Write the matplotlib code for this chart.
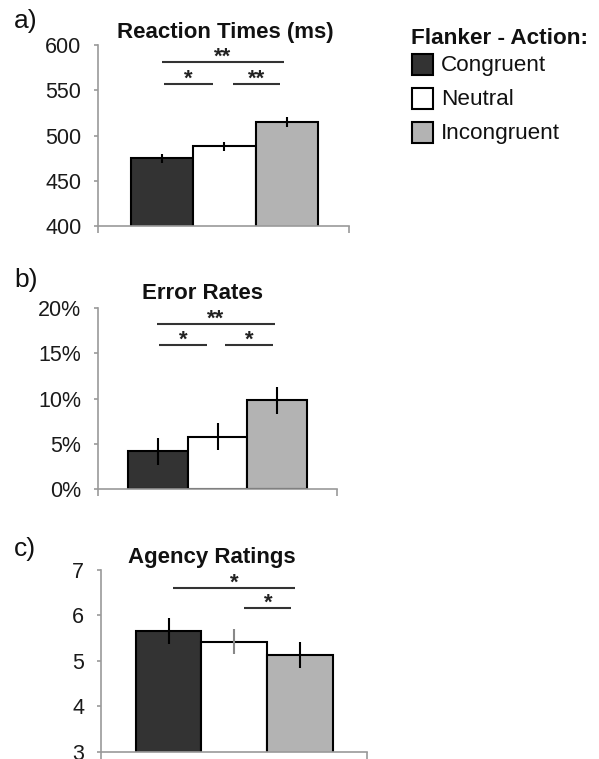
import matplotlib
matplotlib.use('Agg')
import matplotlib.pyplot as plt
from matplotlib.patches import Rectangle

plt.rcParams['font.family'] = ['Liberation Sans', 'DejaVu Sans']

# ---------------- data ----------------
conditions = ['Congruent', 'Neutral', 'Incongruent']
bar_colors = ['#333333', '#ffffff', '#b3b3b3']
err_colors_c = ['black', '#888888', 'black']

rt_means = [475, 488, 515]
rt_errs = [5, 5, 5.5]
rt_ticks = [400, 450, 500, 550, 600]
rt_ticklabels = ['400', '450', '500', '550', '600']

er_means = [4.2, 5.8, 9.8]
er_errs = [1.5, 1.5, 1.5]
er_ticks = [0, 5, 10, 15, 20]
er_ticklabels = ['0%', '5%', '10%', '15%', '20%']

ag_means = [5.65, 5.42, 5.13]
ag_errs = [0.29, 0.28, 0.29]
ag_ticks = [3, 4, 5, 6, 7]
ag_ticklabels = ['3', '4', '5', '6', '7']

# significance brackets: (x start, x end, y level, label)
rt_sig = [(0.0, 1.95, 581, '**'), (0.03, 0.82, 557, '*'), (1.14, 1.90, 557, '**')]
er_sig = [(-0.01, 1.96, 18.3, '**'), (0.02, 0.83, 15.9, '*'), (1.13, 1.93, 15.9, '*')]
ag_sig = [(0.06, 1.93, 6.6, '*'), (1.15, 1.87, 6.17, '*')]

titles = ['Reaction Times (ms)', 'Error Rates', 'Agency Ratings']
panel_labels = ['a)', 'b)', 'c)']
legend_title = 'Flanker - Action:'

# ---------------- layout ----------------
W, H = 599, 759
fig = plt.figure(figsize=(W / 100, H / 100), dpi=100)

def fx(px):
    return px / W

def fy(py):
    return 1 - py / H

panels = [
    dict(rect=[fx(98), fy(226), 251 / W, 181 / H], xlim=(-1.03, 3.0),
         means=rt_means, errs=rt_errs, ticks=rt_ticks, labels=rt_ticklabels,
         ylim=(400, 600), sig=rt_sig, ecol=['black'] * 3,
         title_xy=(225, 38), label_xy=(14, 28)),
    dict(rect=[fx(98), fy(489), 239 / W, 180.7 / H], xlim=(-1.0, 3.0),
         means=er_means, errs=er_errs, ticks=er_ticks, labels=er_ticklabels,
         ylim=(0, 20), sig=er_sig, ecol=['black'] * 3,
         title_xy=(202, 299), label_xy=(14, 287)),
    dict(rect=[fx(101), fy(751.7), 266 / W, 181.7 / H], xlim=(-1.03, 3.02),
         means=ag_means, errs=ag_errs, ticks=ag_ticks, labels=ag_ticklabels,
         ylim=(3, 7), sig=ag_sig, ecol=err_colors_c,
         title_xy=(212, 563), label_xy=(14, 556)),
]

axis_gray = '#9a9a9a'

for p, title, plabel in zip(panels, titles, panel_labels):
    ax = fig.add_axes(p['rect'])
    x = list(range(len(conditions)))
    ax.bar(x, p['means'], width=1.0, color=bar_colors, edgecolor='black',
           linewidth=1.5, zorder=2)
    for xi, m, e, c in zip(x, p['means'], p['errs'], p['ecol']):
        ax.errorbar([xi], [m], yerr=[e], fmt='none', ecolor=c,
                    elinewidth=1.5, capsize=0, zorder=3)
    ax.set_xlim(*p['xlim'])
    ax.set_ylim(*p['ylim'])
    ax.set_yticks(p['ticks'])
    ax.set_yticklabels(p['labels'])
    ax.set_xticks(list(p['xlim']))
    ax.set_xticklabels([])
    for s in ['top', 'right']:
        ax.spines[s].set_visible(False)
    for s in ['left', 'bottom']:
        ax.spines[s].set_color(axis_gray)
        ax.spines[s].set_linewidth(1.2)
    ax.tick_params(axis='y', direction='out', length=3, width=1.2,
                   color=axis_gray, pad=9, labelsize=15.5, labelcolor='#1a1a1a')
    ax.tick_params(axis='x', direction='out', length=5, width=1.2,
                   color=axis_gray)
    for x0, x1, yl, lab in p['sig']:
        ax.plot([x0, x1], [yl, yl], color='#333333', lw=1.5,
                solid_capstyle='butt', clip_on=False, zorder=4)
        ax.annotate(lab, xy=((x0 + x1) / 2, yl), xytext=(0, 3.5),
                    textcoords='offset points', ha='center', va='center',
                    fontsize=16, fontweight='bold', color='#222222',
                    annotation_clip=False)
    fig.text(fx(p['title_xy'][0]), fy(p['title_xy'][1]), title,
             ha='center', va='baseline', fontsize=16, fontweight='bold',
             color='#111111')
    fig.text(fx(p['label_xy'][0]), fy(p['label_xy'][1]), plabel,
             ha='left', va='baseline', fontsize=19, color='#111111')

# ---------------- legend ----------------
fig.text(fx(411), fy(43.5), legend_title, ha='left', va='baseline',
         fontsize=16.2, fontweight='bold', color='#111111')
sq_tops = [54, 88, 122]
for top, name, col in zip(sq_tops, conditions, bar_colors):
    fig.add_artist(Rectangle((fx(412), fy(top + 21)), 21 / W, 21 / H,
                             transform=fig.transFigure, facecolor=col,
                             edgecolor='black', linewidth=1.5))
    fig.text(fx(441), fy(top + 17), name, ha='left', va='baseline',
             fontsize=16.2, color='#111111')

fig.savefig('out.png', dpi=100)
